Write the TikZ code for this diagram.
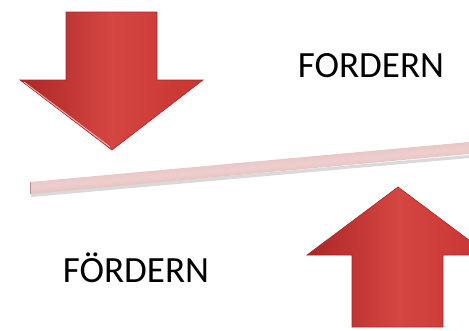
\documentclass[tikz,border=0pt]{standalone}
\usepackage{fontspec}
\setmainfont{Carlito}
\definecolor{arrowred}{RGB}{200,52,50}
\definecolor{arrowdark}{RGB}{172,38,38}
\definecolor{arrowlight}{RGB}{212,70,66}
\definecolor{barpink}{RGB}{222,165,165}
\definecolor{barshade}{RGB}{200,145,145}
\begin{document}
\begin{tikzpicture}[x=1pt,y=-1pt,
  bigarrow/.style={left color=arrowdark, right color=arrowred, middle color=arrowlight, draw=arrowdark, line width=0.6pt, line join=miter},
  label/.style={font=\fontsize{37}{40}\selectfont, anchor=base, inner sep=0pt}]
\useasboundingbox (0,0) rectangle (469,330);
% down arrow
\path[bigarrow] (66,12) -- (157,12) -- (157,80) -- (203,80) -- (112,150) -- (20,80) -- (66,80) -- cycle;
\draw[white, line width=1pt, opacity=0.6] (24,82) -- (110,147);
% bar shadow
\fill[gray!30] (31,193) -- (469,155) -- (469,158) -- (31,197) -- cycle;
% bar
\coordinate (barL) at (30,188);
\coordinate (barR) at (469,148);
\path[top color=barpink, bottom color=barshade, middle color=white!45!barpink, shading angle=5]
  (30,182) -- (469,142) -- (469,154) -- (30,194) -- cycle;
\draw[barshade!80!gray, line width=0.5pt] (30,182) -- (30,194);
% up arrow
\path[bigarrow] (352,327) -- (352,255) -- (307,255) -- (398,187) -- (489,255) -- (443,255) -- (443,327) -- cycle;
\draw[white, line width=1pt, opacity=0.6] (444,256) -- (444,326);
% texts
\node[label] (fordern) at (371,77) {FORDERN};
\node[label] (foerdern) at (136,282) {FÖRDERN};
\end{tikzpicture}
\end{document}
